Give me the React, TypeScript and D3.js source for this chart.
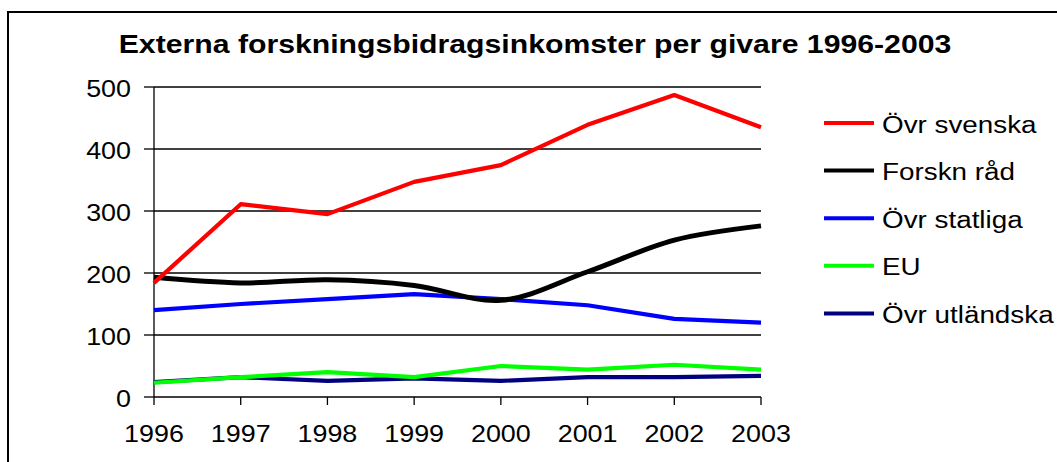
import React from "react";
import * as d3 from "d3";

const years = [1996, 1997, 1998, 1999, 2000, 2001, 2002, 2003];
const ovrSvenska = [184, 311, 295, 347, 374, 439, 487, 435];
const forsknRad = [193, 184, 189, 180, 156, 202, 253, 276];
const ovrStatliga = [140, 150, 158, 166, 158, 148, 126, 120];
const eu = [23, 32, 40, 32, 50, 44, 52, 44];
const ovrUtlandska = [24, 32, 26, 30, 26, 32, 32, 34];
const yTicks = [0, 100, 200, 300, 400, 500];

const seriesNames = ["Övr svenska", "Forskn råd", "Övr statliga", "EU", "Övr utländska"];
const seriesColors = ["#ff0000", "#000000", "#0000ff", "#00ff00", "#000080"];
const seriesData = [ovrSvenska, forsknRad, ovrStatliga, eu, ovrUtlandska];

const title = "Externa forskningsbidragsinkomster per givare 1996-2003";

function SText(props: {
  x: number;
  y: number;
  sx: number;
  size: number;
  anchor?: string;
  bold?: boolean;
  children: React.ReactNode;
}) {
  return (
    <text
      transform={`translate(${props.x},${props.y}) scale(${props.sx},1)`}
      textAnchor={props.anchor || "start"}
      fontSize={props.size}
      fontWeight={props.bold ? "bold" : "normal"}
      fill="#000"
    >
      {props.children}
    </text>
  );
}

export default function App() {
  const W = 1057, H = 462;
  const x = d3.scaleLinear().domain([1996, 2003]).range([154, 761]);
  const y = d3.scaleLinear().domain([0, 500]).range([397, 87]);
  const font = "'Liberation Sans', Arial, sans-serif";

  const straight = d3.line<number>().x((_, i) => x(years[i])).y((d) => y(d));
  const smooth = d3
    .line<number>()
    .x((_, i) => x(years[i]))
    .y((d) => y(d))
    .curve(d3.curveCatmullRom.alpha(0.5));

  const order = [4, 3, 2, 1, 0];

  return (
    <svg
      width={W}
      height={H}
      style={{ position: "absolute", left: 0, top: 0, background: "#fff" }}
      fontFamily={font}
    >
      <rect x={0} y={0} width={W} height={H} fill="#fff" />
      <rect x={8} y={12} width={1200} height={600} fill="none" stroke="#000" strokeWidth={2} />
      <SText x={535} y={53} sx={1.14} size={26.5} anchor="middle" bold>
        {title}
      </SText>
      {yTicks.map((t) => (
        <g key={t}>
          {t > 0 && (
            <line x1={x(1996)} x2={x(2003)} y1={y(t)} y2={y(t)} stroke="#000" strokeWidth={1.3} />
          )}
          <line x1={144} x2={154} y1={y(t)} y2={y(t)} stroke="#000" strokeWidth={1.3} />
          <SText x={131} y={y(t) + 9.5} sx={1.12} size={24} anchor="end">
            {t}
          </SText>
        </g>
      ))}
      <line x1={154} x2={154} y1={y(500)} y2={y(0)} stroke="#000" strokeWidth={1.3} />
      <line x1={x(1996)} x2={x(2003)} y1={y(0)} y2={y(0)} stroke="#000" strokeWidth={1.3} />
      {years.map((yr) => (
        <g key={yr}>
          <line x1={x(yr)} x2={x(yr)} y1={y(0)} y2={y(0) + 8} stroke="#000" strokeWidth={1.3} />
          <SText x={x(yr)} y={442} sx={1.12} size={24} anchor="middle">
            {yr}
          </SText>
        </g>
      ))}
      {order.map((i) => (
        <path
          key={i}
          d={(i === 1 ? smooth : straight)(seriesData[i]) || ""}
          fill="none"
          stroke={seriesColors[i]}
          strokeWidth={i === 1 ? 5 : 4.2}
          strokeLinejoin="round"
        />
      ))}
      {seriesNames.map((name, i) => {
        const ly = 123 + i * 47.6;
        return (
          <g key={name}>
            <line x1={824} x2={874} y1={ly} y2={ly} stroke={seriesColors[i]} strokeWidth={4} />
            <SText x={882} y={ly + 9.5} sx={1.21} size={23}>
              {name}
            </SText>
          </g>
        );
      })}
    </svg>
  );
}
